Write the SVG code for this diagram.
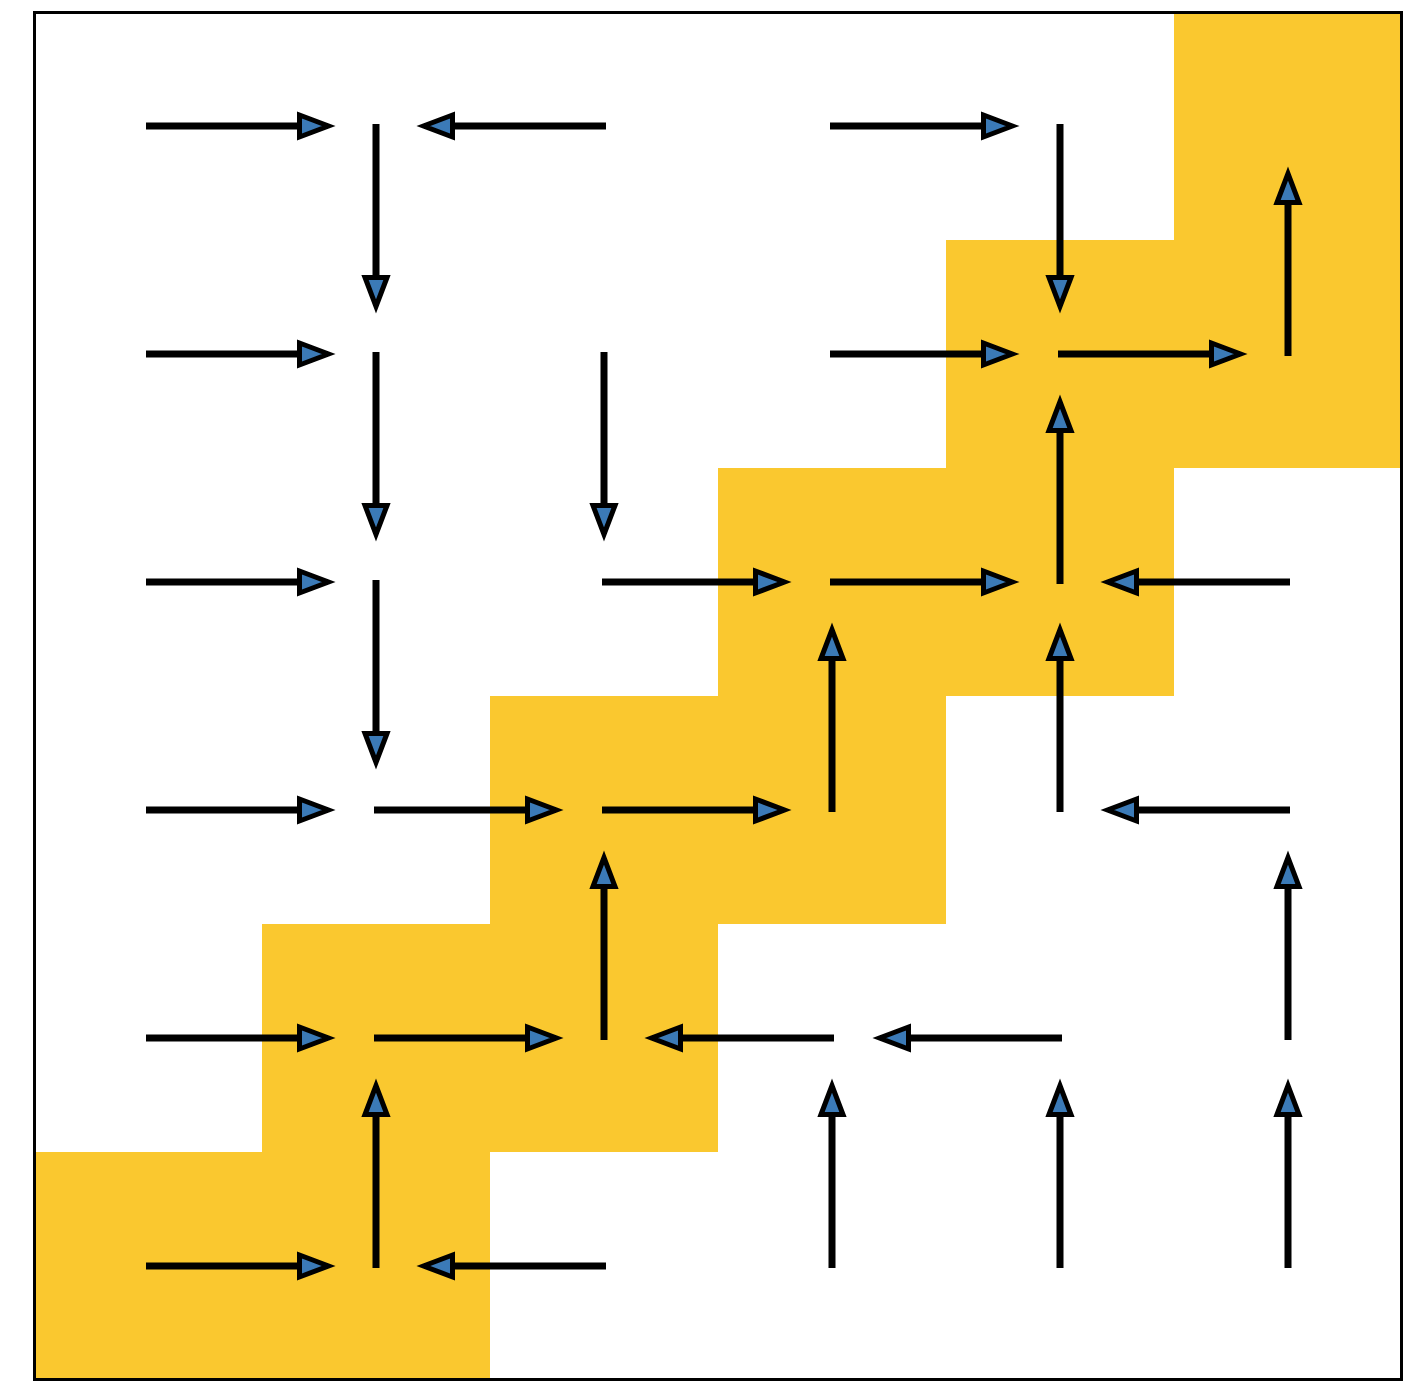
<svg xmlns="http://www.w3.org/2000/svg" width="1428" height="1392" viewBox="0 0 1428 1392">
<style>
.a{stroke:#000;stroke-width:7;fill:none;marker-end:url(#ah)}
</style>
<defs>
<marker id="ah" viewBox="0 0 42 28" refX="3.5" refY="14" markerWidth="42" markerHeight="28" markerUnits="userSpaceOnUse" orient="auto" overflow="visible">
<path d="M3,3 L32,14 L3,25 Z" fill="#3b7ab7" stroke="#000" stroke-width="5" stroke-linejoin="miter"/>
</marker>
</defs>
<rect x="0" y="0" width="1428" height="1392" fill="#fff"/>
<g id="staircase">
<polygon fill="#fac82f" points="34,1380 34,1152 262,1152 262,924 490,924 490,696 718,696 718,468 946,468 946,240 1174,240 1174,12 1402,12 1402,468 1174,468 1174,696 946,696 946,924 718,924 718,1152 490,1152 490,1380"/>
</g>
<g id="frame">
<rect x="34.5" y="12.5" width="1367" height="1367" fill="none" stroke="#000" stroke-width="3"/>
</g>
<g id="connectors">
<!-- row y=126 -->
<line class="a" x1="146" y1="126" x2="300" y2="126"/>
<line class="a" x1="606" y1="126" x2="452" y2="126"/>
<line class="a" x1="830" y1="126" x2="984" y2="126"/>
<line class="a" x1="376" y1="124" x2="376" y2="278"/>
<line class="a" x1="1060" y1="124" x2="1060" y2="278"/>
<line class="a" x1="1288" y1="356" x2="1288" y2="202"/>
<!-- row y=354 -->
<line class="a" x1="146" y1="354" x2="300" y2="354"/>
<line class="a" x1="376" y1="352" x2="376" y2="506"/>
<line class="a" x1="604" y1="352" x2="604" y2="506"/>
<line class="a" x1="830" y1="354" x2="984" y2="354"/>
<line class="a" x1="1058" y1="354" x2="1212" y2="354"/>
<line class="a" x1="1060" y1="584" x2="1060" y2="430"/>
<!-- row y=582 -->
<line class="a" x1="146" y1="582" x2="300" y2="582"/>
<line class="a" x1="376" y1="580" x2="376" y2="734"/>
<line class="a" x1="602" y1="582" x2="756" y2="582"/>
<line class="a" x1="830" y1="582" x2="984" y2="582"/>
<line class="a" x1="1290" y1="582" x2="1136" y2="582"/>
<line class="a" x1="832" y1="812" x2="832" y2="658"/>
<line class="a" x1="1060" y1="812" x2="1060" y2="658"/>
<!-- row y=810 -->
<line class="a" x1="146" y1="810" x2="300" y2="810"/>
<line class="a" x1="374" y1="810" x2="528" y2="810"/>
<line class="a" x1="602" y1="810" x2="756" y2="810"/>
<line class="a" x1="1290" y1="810" x2="1136" y2="810"/>
<line class="a" x1="604" y1="1040" x2="604" y2="886"/>
<line class="a" x1="1288" y1="1040" x2="1288" y2="886"/>
<!-- row y=1038 -->
<line class="a" x1="146" y1="1038" x2="300" y2="1038"/>
<line class="a" x1="374" y1="1038" x2="528" y2="1038"/>
<line class="a" x1="834" y1="1038" x2="680" y2="1038"/>
<line class="a" x1="1062" y1="1038" x2="908" y2="1038"/>
<line class="a" x1="376" y1="1268" x2="376" y2="1114"/>
<line class="a" x1="832" y1="1268" x2="832" y2="1114"/>
<line class="a" x1="1060" y1="1268" x2="1060" y2="1114"/>
<line class="a" x1="1288" y1="1268" x2="1288" y2="1114"/>
<!-- row y=1266 -->
<line class="a" x1="146" y1="1266" x2="300" y2="1266"/>
<line class="a" x1="606" y1="1266" x2="452" y2="1266"/>
</g>
</svg>
